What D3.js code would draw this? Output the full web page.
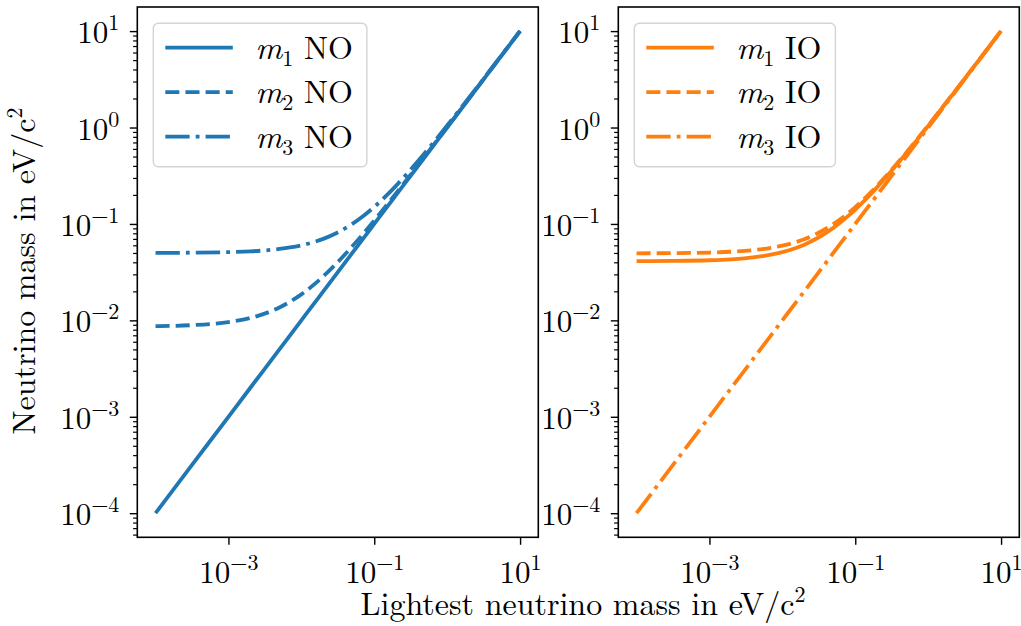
<!DOCTYPE html>
<html>
<head>
<meta charset="utf-8">
<script src="https://cdn.jsdelivr.net/npm/d3@7"></script>
<style>
  html, body { margin: 0; padding: 0; background: #fff; }
  svg { display: block; }
  svg text { font-family: "CMU Serif", "Latin Modern Roman", "Liberation Serif", "Tinos", "Times New Roman", "Nimbus Roman", "FreeSerif", "DejaVu Serif", "Noto Serif", serif !important; fill: #000; }
</style>
</head>
<body>
<svg id="chart" width="1021" height="626"></svg>
<script>
// Lightest neutrino mass (eV/c^2), shared sample points
const lightest = [1e-4, 3e-4, 1e-3, 2e-3, 3e-3, 5e-3, 0.007, 0.01, 0.015, 0.02, 0.03, 0.05, 0.07, 0.1, 0.15, 0.2, 0.3, 0.5, 0.7, 1, 2, 5, 10];

// Normal ordering masses
const noM1 = [1e-4, 3e-4, 1e-3, 2e-3, 3e-3, 5e-3, 0.007, 0.01, 0.015, 0.02, 0.03, 0.05, 0.07, 0.1, 0.15, 0.2, 0.3, 0.5, 0.7, 1, 2, 5, 10];
const noM2 = [0.0087, 0.0089, 0.0096, 0.0106, 0.0116, 0.0136, 0.0156, 0.0186, 0.0236, 0.0286, 0.0386, 0.0586, 0.0786, 0.1086, 0.1586, 0.2086, 0.3086, 0.5086, 0.7086, 1.009, 2.009, 5.009, 10.01];
const noM3 = [0.0501, 0.0503, 0.051, 0.052, 0.053, 0.055, 0.057, 0.06, 0.065, 0.07, 0.08, 0.1, 0.12, 0.15, 0.2, 0.25, 0.35, 0.55, 0.75, 1.05, 2.05, 5.05, 10.05];

// Inverted ordering masses
const ioM1 = [0.0411, 0.0413, 0.042, 0.043, 0.044, 0.046, 0.048, 0.051, 0.056, 0.061, 0.071, 0.091, 0.111, 0.141, 0.191, 0.241, 0.341, 0.541, 0.741, 1.041, 2.04, 5.04, 10.04];
const ioM2 = [0.0496, 0.0498, 0.0505, 0.0515, 0.0525, 0.0545, 0.0565, 0.0595, 0.0645, 0.0695, 0.0795, 0.0995, 0.1195, 0.1495, 0.1995, 0.2495, 0.3495, 0.5495, 0.7495, 1.05, 2.05, 5.05, 10.05];
const ioM3 = [1e-4, 3e-4, 1e-3, 2e-3, 3e-3, 5e-3, 0.007, 0.01, 0.015, 0.02, 0.03, 0.05, 0.07, 0.1, 0.15, 0.2, 0.3, 0.5, 0.7, 1, 2, 5, 10];

// Axis ticks (exponents of ten)
const xTickExps = [-3, -1, 1];
const yTickExps = [-4, -3, -2, -1, 0, 1];
const legendNO = [["1", "NO"], ["2", "NO"], ["3", "NO"]];
const legendIO = [["1", "IO"], ["2", "IO"], ["3", "IO"]];

const svg = d3.select("#chart");
const W = 401, plotTop = 7, plotBottom = 537.3;
const lw = 3.8;
const dashStyles = ["none", `${3.7*lw},${1.6*lw}`, `${6.4*lw},${1.6*lw},${1*lw},${1.6*lw}`];
const domain = [Math.pow(10, -4.25), Math.pow(10, 1.25)];
const tickFont = 31, supFont = 22, labelFont = 32;

function supLabel(sel, exp, anchor) {
  sel.text(null).attr("text-anchor", anchor);
  sel.append("tspan").text("10");
  sel.append("tspan").attr("dy", -13).attr("font-size", supFont)
     .text(exp < 0 ? "\u2212" + Math.abs(exp) : String(exp));
}

function panel(left, series, color, legendRows) {
  const g = svg.append("g");
  const x = d3.scaleLog().domain(domain).range([left, left + W]);
  const y = d3.scaleLog().domain(domain).range([plotBottom, plotTop]);

  // minor y ticks
  const minor = [];
  for (let e = -5; e <= 1; e++) for (let k = 2; k <= 9; k++) {
    const v = k * Math.pow(10, e);
    if (v >= domain[0] && v <= domain[1]) minor.push(v);
  }
  g.append("g").attr("transform", `translate(${left},0)`)
    .call(d3.axisLeft(y).tickValues(minor).tickSize(4.2).tickFormat(""))
    .call(a => a.select(".domain").remove())
    .call(a => a.selectAll("line").attr("stroke", "#000").attr("stroke-width", 1.2));

  // major y ticks
  const ya = g.append("g").attr("transform", `translate(${left},0)`)
    .call(d3.axisLeft(y).tickValues(yTickExps.map(e => Math.pow(10, e))).tickSize(7.5).tickPadding(10).tickFormat(""))
    .call(a => a.select(".domain").remove())
    .call(a => a.selectAll("line").attr("stroke", "#000").attr("stroke-width", 1.4));
  ya.selectAll(".tick text").each(function(d) {
    const t = d3.select(this).attr("font-size", tickFont).attr("dy", 11.5).attr("x", -18);
    supLabel(t, Math.round(Math.log10(d)), "end");
  });

  // major x ticks
  const xa = g.append("g").attr("transform", `translate(0,${plotBottom})`)
    .call(d3.axisBottom(x).tickValues(xTickExps.map(e => Math.pow(10, e))).tickSize(7.5).tickFormat(""))
    .call(a => a.select(".domain").remove())
    .call(a => a.selectAll("line").attr("stroke", "#000").attr("stroke-width", 1.4));
  xa.selectAll(".tick text").each(function(d) {
    const t = d3.select(this).attr("font-size", tickFont).attr("y", 45.5).attr("dy", 0);
    supLabel(t, Math.round(Math.log10(d)), "middle");
  });

  // lines
  const line = d3.line().x((d, i) => x(lightest[i])).y(d => y(d)).curve(d3.curveMonotoneX);
  series.forEach((s, i) => {
    g.append("path").datum(s).attr("d", line)
      .attr("fill", "none").attr("stroke", color).attr("stroke-width", lw)
      .attr("stroke-dasharray", dashStyles[i]);
  });

  // frame
  g.append("rect").attr("x", left).attr("y", plotTop).attr("width", W).attr("height", plotBottom - plotTop)
    .attr("fill", "none").attr("stroke", "#000").attr("stroke-width", 1.6);

  // legend
  const lg = g.append("g");
  const box = lg.append("rect");
  const bx = left + 16, by = 23.3;
  const rows = [47.7, 92.2, 136.7];
  let maxR = 0;
  legendRows.forEach((r, i) => {
    lg.append("line").attr("x1", left + 28).attr("x2", left + 95.5)
      .attr("y1", rows[i]).attr("y2", rows[i])
      .attr("stroke", color).attr("stroke-width", lw).attr("stroke-dasharray", dashStyles[i]);
    const t = lg.append("text").attr("x", left + 118).attr("y", rows[i] + 11).attr("font-size", labelFont);
    t.append("tspan").attr("font-style", "italic").attr("font-size", 33).text("m");
    t.append("tspan").attr("font-size", supFont).attr("dy", 7).text(r[0]);
    t.append("tspan").attr("dy", -7).text(" " + r[1]);
    const bb = t.node().getBBox();
    maxR = Math.max(maxR, bb.x + bb.width);
  });
  box.attr("x", bx).attr("y", by).attr("width", maxR + 14 - bx).attr("height", 143.4)
    .attr("rx", 5).attr("fill", "#fff").attr("fill-opacity", 0.8)
    .attr("stroke", "#d4d4d4").attr("stroke-width", 1.4);
}

panel(137.3, [noM1, noM2, noM3], "#1f77b4", legendNO);
panel(618.3, [ioM1, ioM2, ioM3], "#ff7f0e", legendIO);

// axis titles
const yl = svg.append("text").attr("font-size", labelFont).attr("text-anchor", "middle")
  .attr("transform", "translate(35,271) rotate(-90)");
yl.append("tspan").text("Neutrino mass in eV/c");
yl.append("tspan").attr("font-size", supFont).attr("dy", -13).text("2");

const xl = svg.append("text").attr("font-size", labelFont).attr("text-anchor", "middle")
  .attr("x", 583).attr("y", 615);
xl.append("tspan").text("Lightest neutrino mass in eV/c");
xl.append("tspan").attr("font-size", supFont).attr("dy", -13).text("2");
</script>
</body>
</html>
